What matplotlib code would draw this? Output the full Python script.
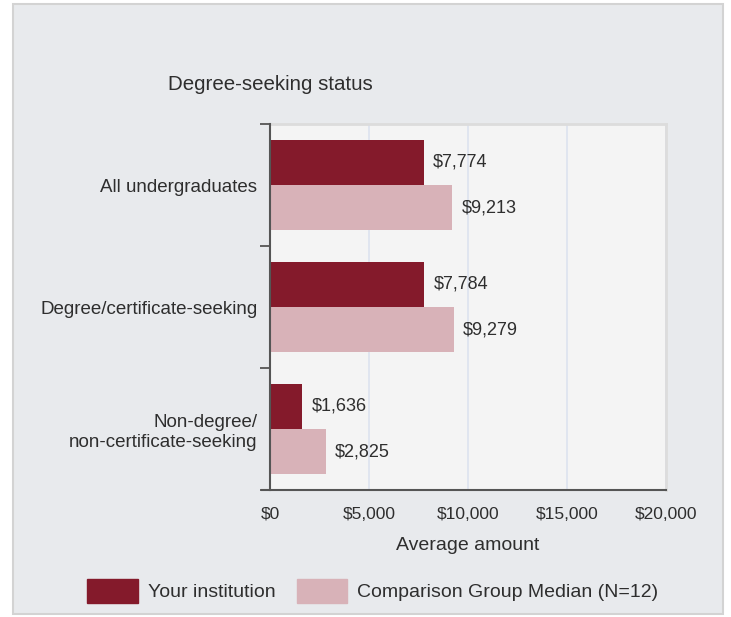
import matplotlib.pyplot as plt
from matplotlib.patches import Rectangle, Patch
from matplotlib.ticker import FuncFormatter
import numpy as np

plt.rcParams['font.family'] = ['Liberation Sans', 'DejaVu Sans']

# data
categories = ["All undergraduates", "Degree/certificate-seeking", "Non-degree/\nnon-certificate-seeking"]
institution = [7774, 7784, 1636]
comparison = [9213, 9279, 2825]
series_names = ["Your institution", "Comparison Group Median (N=12)"]
xticks = [0, 5000, 10000, 15000, 20000]

dark = "#841a2b"
light = "#d8b2b8"
txt = "#2e2e2e"

fig = plt.figure(figsize=(7.31, 6.17), dpi=100)
fig.patch.set_facecolor("white")

# outer panel
fig.patches.append(Rectangle((13 / 731, 1 - 614 / 617), 710 / 731, 610 / 617,
                             transform=fig.transFigure, facecolor="#e8eaed",
                             edgecolor="#d3d3d3", linewidth=1.5, zorder=-10))

ax = fig.add_axes([270 / 731, 1 - 490 / 617, 396 / 731, 366 / 617])
ax.set_facecolor("#f4f4f4")

y = np.arange(len(categories)) + 0.5
h = 0.37
ax.barh(y - h / 2, institution, height=h, color=dark, label=series_names[0], zorder=3)
ax.barh(y + h / 2, comparison, height=h, color=light, label=series_names[1], zorder=3)

for yi, v in zip(y - h / 2, institution):
    ax.text(v + 470, yi, f"${v:,}", va="center", ha="left", fontsize=13, color=txt)
for yi, v in zip(y + h / 2, comparison):
    ax.text(v + 470, yi, f"${v:,}", va="center", ha="left", fontsize=13, color=txt)

ax.set_xlim(0, 20000)
ax.set_ylim(3, 0)
ax.set_xticks(xticks)
ax.xaxis.set_major_formatter(FuncFormatter(lambda v, p: f"${int(v):,}"))
ax.tick_params(axis="x", length=0, pad=12, labelsize=12.5, labelcolor=txt)
ax.grid(axis="x", color="#dde3ee", linewidth=1.2, zorder=0)

ax.set_yticks(y)
ax.set_yticklabels(categories, fontsize=13.5, color=txt)
ax.tick_params(axis="y", which="major", length=0, pad=9)
ax.set_yticks([0, 1, 2, 3], minor=True)
ax.tick_params(axis="y", which="minor", length=7, width=1.3, color="#555555")

for s in ["top", "right"]:
    ax.spines[s].set_color("#dcdcdc")
    ax.spines[s].set_linewidth(2)
ax.spines["left"].set_color("#555555")
ax.spines["left"].set_linewidth(1.5)
ax.spines["bottom"].set_color("#555555")
ax.spines["bottom"].set_linewidth(1.5)
ax.spines["bottom"].set_bounds(-400, 20000)
ax.spines["bottom"].set_zorder(5)
ax.spines["left"].set_zorder(5)

ax.set_xlabel("Average amount", fontsize=14, color=txt, labelpad=11)

fig.text(168 / 731, 1 - 85 / 617, "Degree-seeking status", fontsize=14.8,
         color=txt, va="center", ha="left")

handles = [Patch(facecolor=dark, edgecolor=dark), Patch(facecolor=light, edgecolor=light)]
fig.legend(handles, series_names, loc="center", bbox_to_anchor=(0.51, 1 - 591 / 617),
           ncol=2, frameon=False, fontsize=14, labelcolor=txt,
           handlelength=2.6, handleheight=1.45, handletextpad=0.5, columnspacing=1.1)

fig.savefig("out.png", dpi=100)
